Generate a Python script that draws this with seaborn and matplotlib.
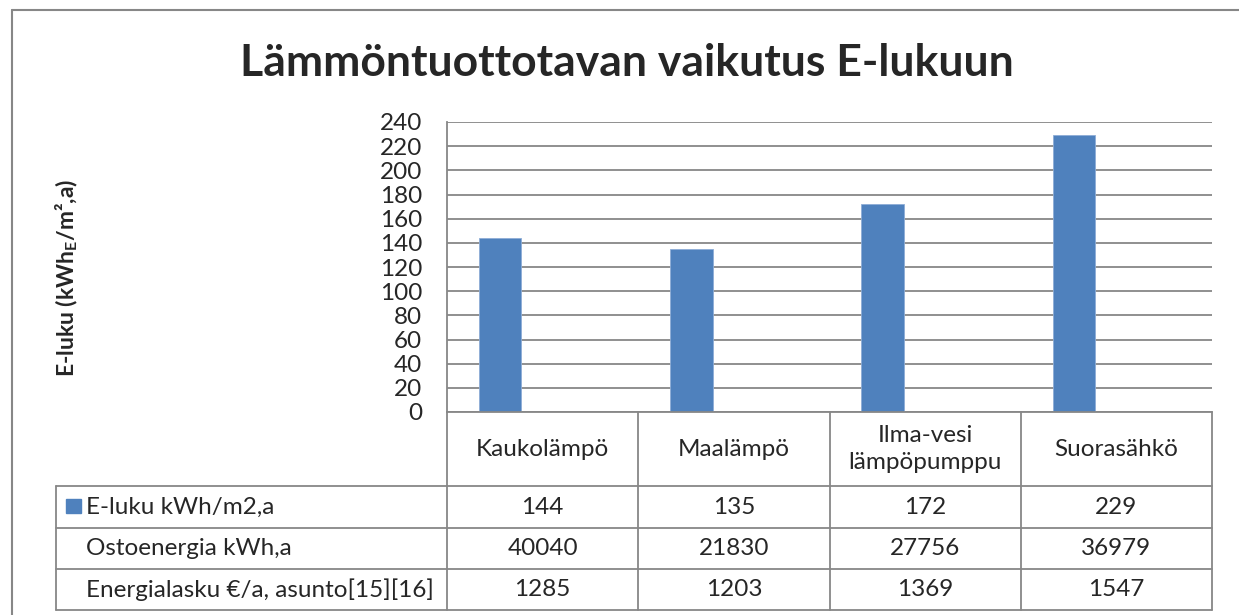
import pandas as pd
import matplotlib.pyplot as plt
import seaborn as sns
from matplotlib.lines import Line2D
from matplotlib.patches import Rectangle

# data
categories = ["Kaukolämpö", "Maalämpö", "Ilma-vesi\nlämpöpumppu", "Suorasähkö"]
e_luku = [144, 135, 172, 229]
ostoenergia = [40040, 21830, 27756, 36979]
energialasku = [1285, 1203, 1369, 1547]
row_labels = ["E-luku kWh/m2,a", "Ostoenergia kWh,a", "Energialasku €/a, asunto[15][16]"]
yticks = list(range(0, 241, 20))

BLUE = "#4F81BD"
GRID = "#878787"
FS = 17.5

sns.set_style("white")
plt.rcParams["font.family"] = ["Lato", "DejaVu Sans"]
plt.rcParams["mathtext.fontset"] = "custom"
plt.rcParams["mathtext.rm"] = "Lato"
plt.rcParams["mathtext.bf"] = "Lato:bold"

W, H = 1239, 615
fig = plt.figure(figsize=(W / 100, H / 100), dpi=100)
ax = fig.add_axes([447 / W, 1 - 412 / H, (1212 - 447) / W, 290 / H])

# only the first series has visible bars; the other two keep their slots
df = pd.DataFrame({"cat": categories, "value": e_luku, "series": row_labels[0]})
sns.barplot(data=df, x="cat", y="value", hue="series", hue_order=row_labels,
            palette=[BLUE, BLUE, BLUE], saturation=1, width=0.667, gap=0,
            dodge=True, legend=False, edgecolor="#8DADD6", linewidth=0.6, ax=ax)

ax.set_ylim(0, 240)
ax.set_xlim(-0.5, 3.5)
ax.set_yticks(yticks)
ax.set_yticklabels([str(t) for t in yticks], fontsize=FS)
ax.tick_params(axis="y", length=0, pad=18)
ax.set_xticks([])
ax.set_xlabel("")
ax.set_ylabel("")
ax.grid(axis="y", color=GRID, linewidth=1.3)
ax.set_axisbelow(True)
for s in ["top", "right"]:
    ax.spines[s].set_visible(False)
for s in ["left", "bottom"]:
    ax.spines[s].set_color(GRID)
    ax.spines[s].set_linewidth(1.3)

# data table below the plot
tr = ax.get_xaxis_transform()
px = lambda y: (412 - y) / 290  # pixel row -> axes y
y_head, y_r1, y_r2, y_r3 = px(486), px(528), px(569), px(610)
x_left = -0.5 + (57 - 447) / 191
lk = dict(color=GRID, linewidth=1.3, transform=tr, clip_on=False)

for xb in [-0.5, 0.5, 1.5, 2.5, 3.5]:
    ax.add_line(Line2D([xb, xb], [0, y_r3], **lk))
ax.add_line(Line2D([x_left, x_left], [y_head, y_r3], **lk))
for yb in [y_head, y_r1, y_r2, y_r3]:
    ax.add_line(Line2D([x_left, 3.5], [yb, yb], **lk))

for i, c in enumerate(categories):
    ax.text(i, y_head / 2, c, transform=tr, ha="center", va="center",
            fontsize=FS, linespacing=1.35, clip_on=False)

rows = [e_luku, ostoenergia, energialasku]
row_bounds = [(y_head, y_r1), (y_r1, y_r2), (y_r2, y_r3)]
x_text = -0.5 + (86 - 447) / 191
for (top, bot), label, vals in zip(row_bounds, row_labels, rows):
    ym = (top + bot) / 2
    ax.text(x_text, ym, label, transform=tr, ha="left", va="center",
            fontsize=FS, clip_on=False)
    for i, v in enumerate(vals):
        ax.text(i, ym, str(v), transform=tr, ha="center", va="center",
                fontsize=FS, clip_on=False)

# legend key in first row
fig.patches.append(Rectangle((66 / W, 1 - 513 / H), 15 / W, 14 / H,
                             transform=fig.transFigure, color=BLUE))

fig.text(627 / W, 1 - 63 / H, "Lämmöntuottotavan vaikutus E-lukuun",
         ha="center", va="center", fontsize=32, fontweight="bold")
fig.text(67 / W, 1 - 278 / H, r"E-luku (kWh$_\mathbf{E}$/m²,a)",
         rotation=90, ha="center", va="center", fontsize=16.5, fontweight="bold")

# chart frame (left and top edges visible)
fig.add_artist(Line2D([12 / W, 12 / W], [0, 1 - 10 / H], color=GRID,
                      linewidth=1.5, transform=fig.transFigure))
fig.add_artist(Line2D([12 / W, 1], [1 - 10 / H, 1 - 10 / H], color=GRID,
                      linewidth=1.5, transform=fig.transFigure))

fig.savefig("out.png", dpi=100)
